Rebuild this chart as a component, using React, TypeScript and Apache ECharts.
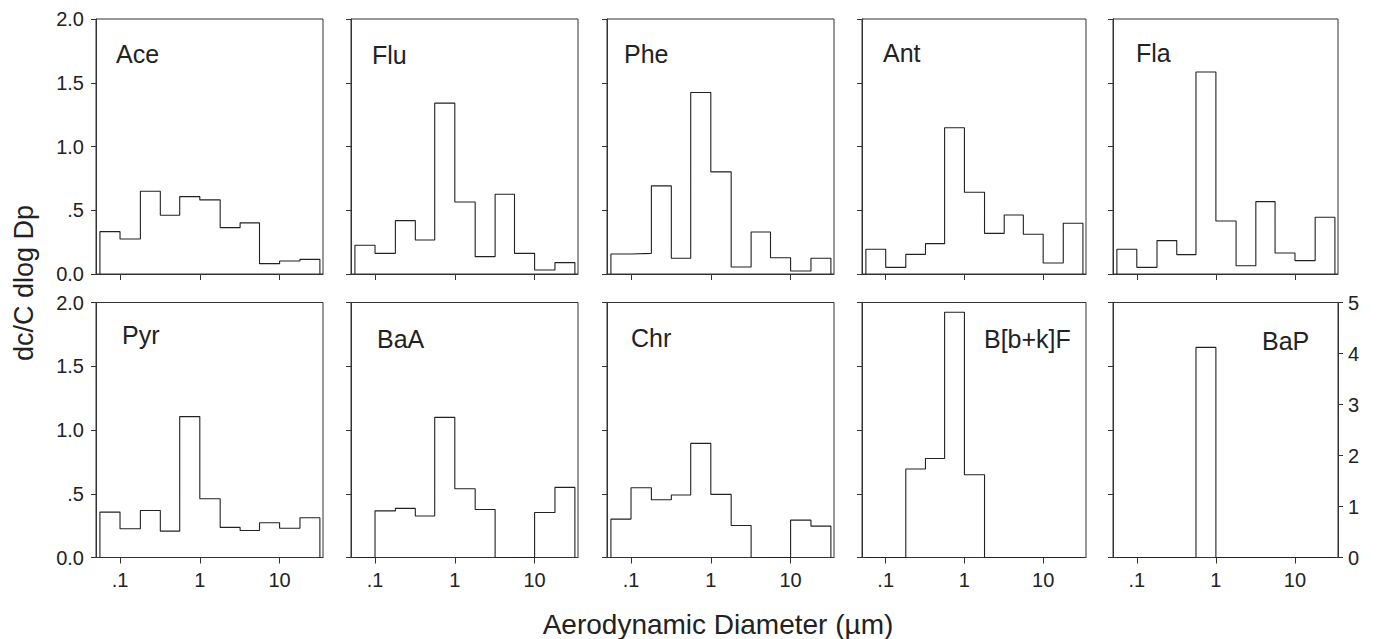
import React, { useEffect, useRef } from "react";
import * as echarts from "echarts";

// ---- data ----
const binEdges = [0.056, 0.1, 0.18, 0.32, 0.56, 1.0, 1.8, 3.2, 5.6, 10, 18, 32];
const speciesNames = ["Ace", "Flu", "Phe", "Ant", "Fla", "Pyr", "BaA", "Chr", "B[b+k]F", "BaP"];
const ace = [0.332, 0.275, 0.649, 0.461, 0.607, 0.581, 0.364, 0.401, 0.081, 0.102, 0.115];
const flu = [0.225, 0.162, 0.419, 0.267, 1.34, 0.565, 0.136, 0.626, 0.162, 0.031, 0.089];
const phe = [0.157, 0.162, 0.691, 0.123, 1.424, 0.801, 0.055, 0.33, 0.128, 0.024, 0.123];
const ant = [0.194, 0.052, 0.154, 0.238, 1.147, 0.641, 0.319, 0.463, 0.312, 0.086, 0.398];
const fla = [0.194, 0.052, 0.262, 0.152, 1.584, 0.416, 0.065, 0.568, 0.165, 0.105, 0.445];
const pyr = [0.356, 0.225, 0.369, 0.207, 1.105, 0.461, 0.236, 0.212, 0.272, 0.23, 0.312];
const baa = [0, 0.366, 0.385, 0.325, 1.099, 0.539, 0.377, 0, 0, 0.353, 0.55];
const chr = [0.301, 0.547, 0.453, 0.49, 0.895, 0.495, 0.251, 0, 0, 0.293, 0.246];
const bbkf = [0, 0, 0.694, 0.777, 1.924, 0.649, 0, 0, 0, 0, 0];
const bap = [0, 0, 0, 0, 4.12, 0, 0, 0, 0, 0, 0];
const allSeries = [ace, flu, phe, ant, fla, pyr, baa, chr, bbkf, bap];

const xTickValues = [0.1, 1, 10];
const xTickLabels = [".1", "1", "10"];
const yLeftTicks = [0, 0.5, 1, 1.5, 2];
const yLeftLabels = ["0.0", ".5", "1.0", "1.5", "2.0"];
const yRightMax = 5;

const xTitle = "Aerodynamic Diameter (µm)";
const yTitle = "dc/C dlog Dp";

// ---- layout ----
const FONT = "'Liberation Sans', Arial, Helvetica, sans-serif";
const INK = "#222";
const FRAME = "#333";
const panelLefts = [96, 351, 607, 862, 1113];
const panelWidths = [227, 227, 227, 224, 225];
const rowTops = [19, 302.5];
const rowHeight = 255;
const labelPos: [number, number, string][] = [
  [116, 54, "left"], [372, 55, "left"], [624, 54, "left"], [883, 53, "left"], [1136, 53, "left"],
  [122, 335, "left"], [377, 339, "left"], [631, 338, "left"], [984, 339, "left"], [1262, 341, "left"],
];

function stepData(values: number[]) {
  const pts: [number, number][] = [[binEdges[0], 0]];
  values.forEach((v, i) => {
    pts.push([binEdges[i], v]);
    pts.push([binEdges[i + 1], v]);
  });
  pts.push([binEdges[binEdges.length - 1], 0]);
  return pts;
}

function xLabel(v: number) {
  const i = xTickValues.findIndex((t) => Math.abs(t - v) / t < 1e-6);
  return i >= 0 ? xTickLabels[i] : "";
}
function yLabel(v: number) {
  const i = yLeftTicks.findIndex((t) => Math.abs(t - v) < 1e-6);
  return i >= 0 ? yLeftLabels[i] : "";
}

export default function App() {
  const ref = useRef<HTMLDivElement>(null);
  useEffect(() => {
    if (!ref.current) return;
    const chart = echarts.init(ref.current, undefined, { renderer: "svg" });
    const grids: any[] = [];
    const xAxes: any[] = [];
    const yAxes: any[] = [];
    const series: any[] = [];
    const graphics: any[] = [];
    for (let i = 0; i < 10; i++) {
      const row = Math.floor(i / 5);
      const col = i % 5;
      grids.push({
        left: panelLefts[col],
        top: rowTops[row],
        width: panelWidths[col],
        height: rowHeight,
        show: true,
        borderColor: FRAME,
        borderWidth: 1,
        backgroundColor: "transparent",
      });
      xAxes.push({
        type: "log",
        logBase: 10,
        gridIndex: i,
        min: 0.05,
        max: 35,
        axisLine: { show: true, lineStyle: { color: FRAME, width: 1 } },
        axisTick: { show: true, length: 6, customValues: xTickValues, lineStyle: { color: FRAME } },
        axisLabel: {
          show: row === 1,
          customValues: xTickValues,
          formatter: xLabel,
          fontSize: 20,
          color: INK,
          fontFamily: FONT,
          margin: 12,
        },
        splitLine: { show: false },
        minorTick: { show: false },
      });
      yAxes.push({
        type: "value",
        gridIndex: i,
        min: 0,
        max: 2,
        interval: 0.5,
        axisLine: { show: true, lineStyle: { color: FRAME, width: 1 } },
        axisTick: { show: true, length: 5, lineStyle: { color: FRAME } },
        axisLabel: {
          show: col === 0,
          formatter: yLabel,
          fontSize: 20,
          color: INK,
          fontFamily: FONT,
          margin: 12,
        },
        splitLine: { show: false },
      });
      graphics.push({
        type: "text",
        x: labelPos[i][0],
        y: labelPos[i][1],
        style: {
          text: speciesNames[i],
          fill: INK,
          font: `25px ${FONT}`,
          textAlign: labelPos[i][2],
          textVerticalAlign: "middle",
        },
      });
    }
    // right axis for BaP
    yAxes.push({
      type: "value",
      gridIndex: 9,
      position: "right",
      min: 0,
      max: yRightMax,
      interval: 1,
      axisLine: { show: true, lineStyle: { color: FRAME, width: 1 } },
      axisTick: { show: true, length: 5, lineStyle: { color: FRAME } },
      axisLabel: { show: true, fontSize: 20, color: INK, fontFamily: FONT, margin: 10 },
      splitLine: { show: false },
    });
    allSeries.forEach((vals, i) => {
      series.push({
        type: "line",
        name: speciesNames[i],
        xAxisIndex: i,
        yAxisIndex: i === 9 ? 10 : i,
        data: stepData(vals),
        showSymbol: false,
        symbol: "none",
        lineStyle: { color: INK, width: 1.1 },
        clip: false,
      });
    });
    graphics.push({
      type: "text",
      x: 718,
      y: 624,
      style: {
        text: xTitle,
        fill: INK,
        font: `28px ${FONT}`,
        textAlign: "center",
        textVerticalAlign: "middle",
      },
    });
    graphics.push({
      type: "text",
      x: 24,
      y: 283,
      rotation: Math.PI / 2,
      style: {
        text: yTitle,
        fill: INK,
        font: `27px ${FONT}`,
        textAlign: "center",
        textVerticalAlign: "middle",
      },
    });
    chart.setOption({
      animation: false,
      backgroundColor: "#fff",
      grid: grids,
      xAxis: xAxes,
      yAxis: yAxes,
      series,
      graphic: graphics,
    });
    return () => chart.dispose();
  }, []);
  return (
    <div
      ref={ref}
      style={{ position: "fixed", left: 0, top: 0, width: 1379, height: 639 }}
    />
  );
}
